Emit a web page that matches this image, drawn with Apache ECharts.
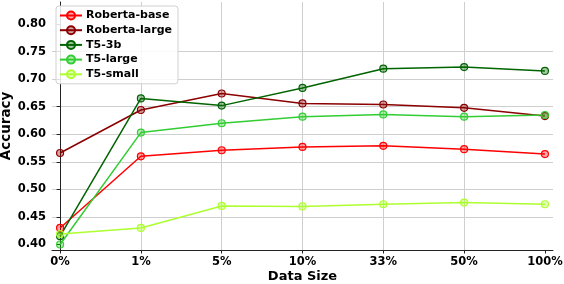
<!DOCTYPE html>
<html><head><meta charset="utf-8">
<script src="https://cdn.jsdelivr.net/npm/echarts@6/dist/echarts.min.js"></script>
<style>html,body{margin:0;padding:0;background:#fff}#c{width:564px;height:284px}</style>
</head><body><div id="c"></div>
<script>
const categories = ['0%','1%','5%','10%','33%','50%','100%'];
const yTicks = [0.40,0.45,0.50,0.55,0.60,0.65,0.70,0.75,0.80];
const robertaBase  = [0.430,0.560,0.571,0.577,0.579,0.573,0.564];
const robertaLarge = [0.566,0.644,0.674,0.656,0.654,0.648,0.633];
const t53b         = [0.415,0.665,0.652,0.684,0.719,0.722,0.715];
const t5Large      = [0.400,0.603,0.620,0.632,0.636,0.632,0.635];
const t5Small      = [0.419,0.430,0.470,0.469,0.473,0.476,0.473];
const seriesNames = ['Roberta-base','Roberta-large','T5-3b','T5-large','T5-small'];
const seriesData = [robertaBase, robertaLarge, t53b, t5Large, t5Small];
const colors = ['#ff0000','#8b0000','#006400','#32cd32','#adff2f'];
const fills = ['rgba(255,0,0,0.35)','rgba(139,0,0,0.35)','rgba(0,100,0,0.35)','rgba(50,205,50,0.35)','rgba(173,255,47,0.35)'];
const xIdx = categories.map((c,i)=>i);

const font = 'DejaVu Sans';
const chart = echarts.init(document.getElementById('c'), null, {renderer:'canvas'});
chart.setOption({
  animation:false,
  backgroundColor:'#fff',
  grid:{left:52,right:11,top:2,bottom:34,containLabel:false,outerBoundsMode:'none'},
  legend:{
    orient:'vertical', left:56, top:6,
    itemWidth:22, itemHeight:10, itemGap:3.7,
    padding:[4,6,4,3],
    borderColor:'#d0d0d0', borderWidth:1, borderRadius:3,
    backgroundColor:'rgba(255,255,255,0.85)',
    textStyle:{fontFamily:font,fontWeight:'bold',fontSize:11,color:'#000',padding:[0,0,0,-1]},
    data:seriesNames
  },
  xAxis:{
    type:'value', min:-0.1, max:6.1, minInterval:1, maxInterval:1,
    name:'Data Size', nameLocation:'middle', nameGap:20, nameMoveOverlap:false,
    nameTextStyle:{fontFamily:font,fontWeight:'bold',fontSize:13,color:'#000'},
    axisLine:{show:true,lineStyle:{color:'#222',width:1}},
    axisTick:{show:true,length:3.5,lineStyle:{color:'#222'},customValues:xIdx},
    axisLabel:{customValues:xIdx,fontFamily:font,fontWeight:'bold',fontSize:11.5,color:'#000',margin:6,
      formatter:v=>categories[Math.round(v)]},
    splitLine:{show:true,showMinLine:false,showMaxLine:false,lineStyle:{color:'#cfcfcf',width:1}}
  },
  yAxis:{
    type:'value', min:0.39, max:0.84, splitNumber:9, minInterval:0.05, maxInterval:0.05,
    name:'Accuracy', nameLocation:'middle', nameGap:39, nameMoveOverlap:false,
    nameTextStyle:{fontFamily:font,fontWeight:'bold',fontSize:13.5,color:'#000'},
    axisLine:{show:true,lineStyle:{color:'#222',width:1}},
    axisTick:{show:true,length:3.5,lineStyle:{color:'#222'},customValues:yTicks},
    axisLabel:{customValues:yTicks,fontFamily:font,fontWeight:'bold',fontSize:11.5,color:'#000',margin:6,
      formatter:v=>v.toFixed(2)},
    splitLine:{show:true,showMinLine:false,showMaxLine:false,lineStyle:{color:'#cfcfcf',width:1}}
  },
  series: seriesNames.map((n,i)=>({
    name:n, type:'line',
    data: seriesData[i].map((v,j)=>[xIdx[j],v]),
    symbol:'circle', symbolSize:7,
    lineStyle:{color:colors[i],width:1.5},
    itemStyle:{color:fills[i],borderColor:colors[i],borderWidth:1.2},
    emphasis:{disabled:true}
  }))
});
</script></body></html>
